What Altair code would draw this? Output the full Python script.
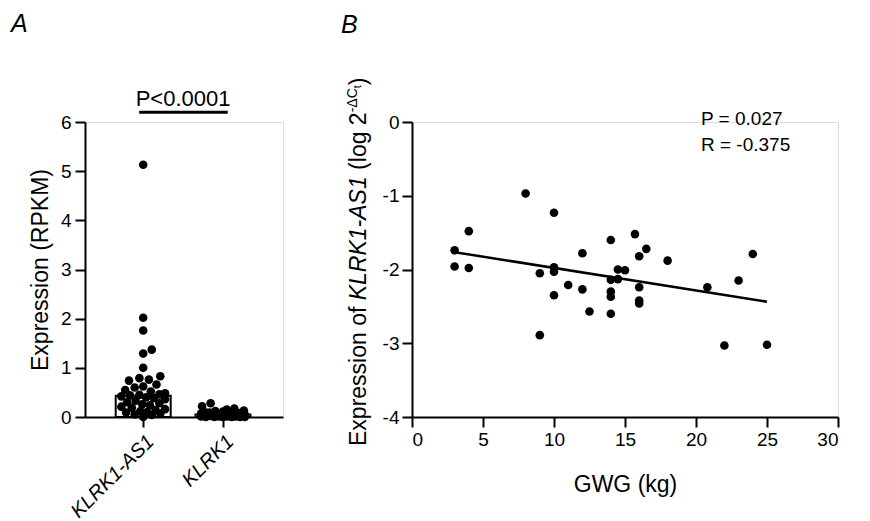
import altair as alt
import pandas as pd
import numpy as np

FONT = "Liberation Sans"

# ---------------- Panel A data ----------------
groups = ["KLRK1-AS1", "KLRK1"]
group_pos = [1, 2]
as1_values = [5.13, 2.02, 1.76, 1.37, 1.29, 1.00, 0.83, 0.79, 0.76, 0.74, 0.66, 0.62, 0.60,
              0.55, 0.52, 0.48, 0.46, 0.45, 0.44, 0.42, 0.40, 0.38, 0.36, 0.33, 0.30, 0.28,
              0.26, 0.24, 0.21, 0.19, 0.16, 0.14, 0.12, 0.10, 0.09, 0.07, 0.05, 0.04, 0.00]
klrk1_values = [0.28, 0.22, 0.17, 0.15, 0.13, 0.12, 0.11, 0.10, 0.09, 0.09, 0.08, 0.07, 0.07,
                0.06, 0.06, 0.05, 0.05, 0.04, 0.04, 0.04, 0.03, 0.03, 0.03, 0.02, 0.02, 0.02,
                0.02, 0.01, 0.01, 0.01, 0.01, 0.00, 0.00, 0.00, 0.00, 0.00, 0.00]
bar_heights = [0.43, 0.05]
a_y_ticks = [0, 1, 2, 3, 4, 5, 6]
a_p_label = "P<0.0001"

# ---------------- Panel B data ----------------
gwg_kg = [3, 3, 4, 4, 8, 9, 9, 10, 10, 10, 10, 11, 12, 12, 12.5, 14, 14, 14, 14, 14,
          14.5, 14.5, 15, 15.7, 16, 16, 16, 16, 16.5, 18, 20.8, 22, 23, 24, 25]
klrk1_as1_expr = [-1.74, -1.96, -1.48, -1.98, -0.97, -2.05, -2.89, -1.23, -1.97, -2.03, -2.35,
                  -2.21, -1.78, -2.27, -2.57, -1.60, -2.14, -2.30, -2.37, -2.60, -2.00, -2.13,
                  -2.01, -1.52, -1.82, -2.24, -2.42, -2.46, -1.72, -1.88, -2.24, -3.03, -2.15,
                  -1.79, -3.02]
b_x_ticks = [0, 5, 10, 15, 20, 25, 30]
b_y_ticks = [-4, -3, -2, -1, 0]
b_stats = ["P = 0.027", "R = -0.375"]

# ---------------- layout constants ----------------
A_W, A_H = 198, 295
B_W, B_H = 426, 295
A_XDOM = [0.333, 2.69]
A_YDOM = [0, 6]
B_XDOM = [0, 30]
B_YDOM = [-4, 0]
DOT = 74


def swarm_offsets(values, ky, kx, d=9.0, half=23.0):
    """Deterministic beeswarm: horizontal offsets (data units) so dots do not overlap."""
    order = sorted(range(len(values)), key=lambda i: values[i])
    cands = [0.0]
    s = 1.0
    while s <= half:
        cands += [s, -s]
        s += 1.0
    placed = []
    offs = [0.0] * len(values)
    for i in order:
        y = values[i] * ky
        best, bestd = 0.0, -1.0
        for c in cands:
            md = min((np.hypot(c - px, y - py) for px, py in placed), default=1e9)
            if md >= d:
                best = c
                break
            if md > bestd:
                bestd, best = md, c
        placed.append((best, y))
        offs[i] = best / kx
    return offs


ky = A_H / (A_YDOM[1] - A_YDOM[0])
kx = A_W / (A_XDOM[1] - A_XDOM[0])

rows = []
for g, p, vals in zip(groups, group_pos, [as1_values, klrk1_values]):
    offs = swarm_offsets(vals, ky, kx)
    for v, o in zip(vals, offs):
        rows.append({"group": g, "pos": p + o, "value": v})
dfA = pd.DataFrame(rows)
dfA_bar = pd.DataFrame({"group": groups, "pos": group_pos, "height": bar_heights})

axis_common = dict(domainColor="black", domainWidth=2, tickColor="black", tickWidth=2,
                   tickSize=10, labelColor="black", labelFont=FONT, labelFontSize=19,
                   titleFont=FONT, titleFontSize=23, titleColor="black",
                   titleFontWeight="normal", grid=False)

label_expr = f"datum.value == {group_pos[0]} ? '{groups[0]}' : '{groups[1]}'"
xA_axis = alt.Axis(values=group_pos, labelExpr=label_expr, labelAngle=-45, labelAlign="right",
                   labelBaseline="top", labelFontStyle="italic", labelPadding=4,
                   **{**axis_common, "labelFontSize": 20})
yA_axis = alt.Axis(values=a_y_ticks, labelPadding=4, titlePadding=8, **axis_common)
xA_scale = alt.Scale(domain=A_XDOM, nice=False, zero=False)
yA_scale = alt.Scale(domain=A_YDOM, nice=False)
A_YTITLE = "Expression (RPKM)"

bars = alt.Chart(dfA_bar).mark_bar(size=55, fill="white", stroke="black", strokeWidth=2,
                                   orient="vertical").encode(
    x=alt.X("pos:Q", scale=xA_scale, axis=xA_axis, title=None),
    y=alt.Y("height:Q", scale=yA_scale, axis=yA_axis, title=A_YTITLE),
)
points = alt.Chart(dfA).mark_circle(size=DOT, color="black", opacity=1).encode(
    x=alt.X("pos:Q", scale=xA_scale, axis=xA_axis, title=None),
    y=alt.Y("value:Q", scale=yA_scale, axis=yA_axis, title=A_YTITLE),
)
dfA_sig = pd.DataFrame({"x1": [group_pos[0] - 0.05], "x2": [group_pos[1] + 0.06],
                        "y": [6.2], "xm": [(group_pos[0] + group_pos[1]) / 2],
                        "yt": [6.33], "label": [a_p_label]})
sig_rule = alt.Chart(dfA_sig).mark_rule(color="black", strokeWidth=3).encode(
    x=alt.X("x1:Q", scale=xA_scale, axis=xA_axis, title=None),
    x2="x2:Q",
    y=alt.Y("y:Q", scale=yA_scale, axis=yA_axis, title=A_YTITLE),
)
sig_text = alt.Chart(dfA_sig).mark_text(font=FONT, fontSize=22, color="black", align="center",
                                        baseline="alphabetic").encode(
    x=alt.X("xm:Q", scale=xA_scale, axis=xA_axis, title=None),
    y=alt.Y("yt:Q", scale=yA_scale, axis=yA_axis, title=A_YTITLE),
    text="label:N",
)
lab_a = alt.Chart(pd.DataFrame({"t": ["A"]})).mark_text(
    font=FONT, fontSize=25, fontStyle="italic", color="black", align="left",
    baseline="alphabetic").encode(x=alt.value(-74), y=alt.value(-90), text="t:N")

chartA = alt.layer(bars, points, sig_rule, sig_text, lab_a).properties(width=A_W, height=A_H)

# ---------------- Panel B ----------------
dfB = pd.DataFrame({"gwg": gwg_kg, "expr": klrk1_as1_expr})
xB = alt.X("gwg:Q", scale=alt.Scale(domain=B_XDOM, nice=False),
           axis=alt.Axis(values=b_x_ticks, labelPadding=3, titlePadding=24, **axis_common),
           title="GWG (kg)")
yB = alt.Y("expr:Q", scale=alt.Scale(domain=B_YDOM, nice=False),
           axis=alt.Axis(values=b_y_ticks, labelPadding=3,
                         labelExpr="replace(datum.label, '\u2212', '-')", **axis_common),
           title=None)

scatter = alt.Chart(dfB).mark_circle(size=DOT, color="black", opacity=1).encode(x=xB, y=yB)
reg = alt.Chart(dfB).transform_regression(
    "gwg", "expr", extent=[min(gwg_kg), max(gwg_kg)]
).mark_line(color="black", strokeWidth=2.5).encode(x=xB, y=yB)

layersB = [scatter, reg]
for txt, ypx in zip(b_stats, [3, 28.7]):
    layersB.append(alt.Chart(pd.DataFrame({"t": [txt]})).mark_text(
        font=FONT, fontSize=19, color="black", align="left", baseline="alphabetic"
    ).encode(x=alt.value(289), y=alt.value(ypx), text="t:N"))

# rich y-axis title for panel B, built from text pieces
ARIAL = {' ': 278, '(': 333, ')': 333, '-': 333, 'A': 667, 'C': 722, 'E': 667, 'K': 667,
         'L': 556, 'R': 722, 'S': 667, 'e': 556, 'f': 278, 'g': 556, 'i': 222, 'l': 222,
         'n': 556, 'o': 556, 'p': 556, 'r': 333, 's': 500, 't': 278, 'x': 500, 'Δ': 668}


def tw(s, size):
    return sum(ARIAL.get(c, 556) for c in s) * size / 1000.0


pieces = [("Expression of ", 23, "normal", 0), ("KLRK1-AS1", 23, "italic", 0),
          (" (log 2", 23, "normal", 0), ("-ΔC", 14, "normal", -9), ("t", 11, "normal", -5),
          (")", 23, "normal", 0)]
TITLE_X, TITLE_Y0 = -46, 324
cum = 0.0
for s, size, style, dx in pieces:
    lead = len(s) - len(s.lstrip())
    start = cum + tw(s[:lead], size)
    layersB.append(alt.Chart(pd.DataFrame({"t": [s.strip()]})).mark_text(
        font=FONT, fontSize=size, fontStyle=style, color="black", angle=270, align="left",
        baseline="alphabetic"
    ).encode(x=alt.value(TITLE_X + dx), y=alt.value(TITLE_Y0 - start), text="t:N"))
    cum += tw(s, size)

layersB.append(alt.Chart(pd.DataFrame({"t": ["B"]})).mark_text(
    font=FONT, fontSize=25, fontStyle="italic", color="black", align="left",
    baseline="alphabetic").encode(x=alt.value(-71), y=alt.value(-89), text="t:N"))

chartB = alt.layer(*layersB).properties(width=B_W, height=B_H)

chart = alt.hconcat(chartA, chartB, spacing=56).properties(
    padding={"left": 2, "top": 3, "right": 5, "bottom": 0}
).configure_view(stroke=None).configure(font=FONT, background="white")

chart.save("out.html", embed_options={"renderer": "svg", "actions": False})
